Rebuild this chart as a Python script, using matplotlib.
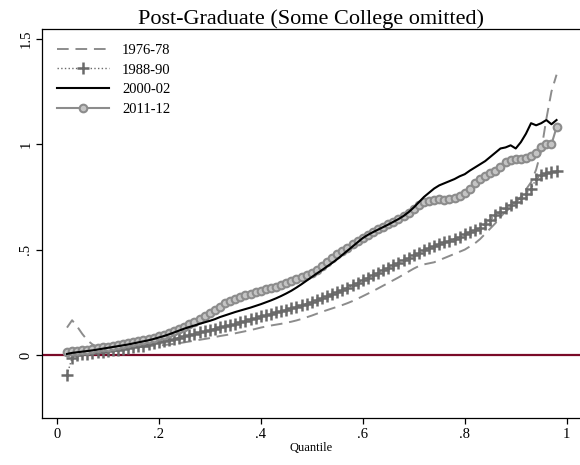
import numpy as np
import matplotlib.pyplot as plt

plt.rcParams['font.family'] = ['Liberation Serif', 'DejaVu Serif']

# quantiles 0.02 ... 0.98, ten values per row
quantile = np.round(np.arange(2, 99) / 100, 2)

y_1976 = [0.13, 0.165, 0.135, 0.10, 0.07, 0.05, 0.04, 0.035, 0.035, 0.035,
          0.035, 0.036, 0.037, 0.038, 0.04, 0.041, 0.042, 0.044, 0.045, 0.047,
          0.05, 0.053, 0.056, 0.06, 0.064, 0.068, 0.072, 0.076, 0.08, 0.085,
          0.09, 0.094, 0.098, 0.103, 0.108, 0.113, 0.118, 0.124, 0.13, 0.135,
          0.14, 0.144, 0.148, 0.153, 0.158, 0.164, 0.171, 0.179, 0.187, 0.196,
          0.205, 0.213, 0.221, 0.229, 0.237, 0.246, 0.256, 0.267, 0.279, 0.291,
          0.303, 0.316, 0.329, 0.342, 0.355, 0.368, 0.382, 0.396, 0.41, 0.422,
          0.43, 0.435, 0.44, 0.45, 0.46, 0.47, 0.48, 0.49, 0.50, 0.515,
          0.53, 0.55, 0.575, 0.60, 0.625, 0.655, 0.68, 0.70, 0.725, 0.75,
          0.785, 0.82, 0.88, 0.97, 1.12, 1.25, 1.33]

y_1988 = [-0.095, -0.012, -0.002, 0.003, 0.007, 0.01, 0.013, 0.016, 0.019, 0.022,
          0.025, 0.029, 0.033, 0.037, 0.041, 0.045, 0.05, 0.055, 0.06, 0.065,
          0.071, 0.077, 0.083, 0.089, 0.095, 0.101, 0.107, 0.113, 0.119, 0.125,
          0.131, 0.137, 0.143, 0.149, 0.156, 0.163, 0.17, 0.177, 0.184, 0.19,
          0.196, 0.202, 0.208, 0.214, 0.221, 0.228, 0.236, 0.244, 0.252, 0.26,
          0.269, 0.278, 0.288, 0.298, 0.308, 0.319, 0.33, 0.342, 0.354, 0.366,
          0.378, 0.39, 0.402, 0.414, 0.426, 0.438, 0.45, 0.462, 0.474, 0.486,
          0.497, 0.507, 0.516, 0.525, 0.534, 0.543, 0.552, 0.562, 0.572, 0.582,
          0.592, 0.604, 0.622, 0.642, 0.662, 0.68, 0.698, 0.713, 0.728, 0.745,
          0.765, 0.79, 0.835, 0.855, 0.862, 0.868, 0.872]

y_2000 = [0.005, 0.01, 0.013, 0.016, 0.019, 0.022, 0.026, 0.03, 0.034, 0.038,
          0.042, 0.046, 0.05, 0.055, 0.06, 0.065, 0.07, 0.076, 0.083, 0.09,
          0.098, 0.107, 0.116, 0.125, 0.133, 0.14, 0.148, 0.155, 0.162, 0.17,
          0.18, 0.188, 0.196, 0.204, 0.211, 0.218, 0.225, 0.233, 0.241, 0.25,
          0.259, 0.269, 0.28, 0.292, 0.305, 0.32, 0.336, 0.353, 0.37, 0.387,
          0.403, 0.42, 0.437, 0.455, 0.475, 0.495, 0.515, 0.535, 0.555, 0.57,
          0.583, 0.595, 0.607, 0.619, 0.632, 0.645, 0.66, 0.678, 0.70, 0.725,
          0.75, 0.77, 0.79, 0.805, 0.815, 0.825, 0.835, 0.848, 0.858, 0.875,
          0.89, 0.905, 0.92, 0.94, 0.96, 0.98, 0.985, 0.995, 0.98, 1.01,
          1.05, 1.10, 1.09, 1.10, 1.115, 1.095, 1.115]

y_2011 = [0.014, 0.017, 0.02, 0.022, 0.025, 0.028, 0.032, 0.036, 0.04, 0.044,
          0.048, 0.052, 0.056, 0.06, 0.065, 0.07, 0.076, 0.082, 0.088, 0.095,
          0.103, 0.112, 0.122, 0.133, 0.145, 0.158, 0.172, 0.186, 0.20, 0.215,
          0.23, 0.245, 0.258, 0.268, 0.276, 0.283, 0.29, 0.297, 0.304, 0.311,
          0.318, 0.325, 0.333, 0.341, 0.35, 0.36, 0.37, 0.38, 0.39, 0.405,
          0.42, 0.44, 0.46, 0.478, 0.495, 0.51, 0.525, 0.54, 0.555, 0.57,
          0.585, 0.597, 0.609, 0.621, 0.633, 0.646, 0.66, 0.676, 0.695, 0.712,
          0.725, 0.733, 0.737, 0.738, 0.737, 0.738, 0.745, 0.755, 0.768, 0.79,
          0.815, 0.835, 0.85, 0.863, 0.875, 0.89, 0.915, 0.927, 0.93, 0.932,
          0.936, 0.942, 0.958, 0.988, 1.0, 1.0, 1.08]

fig = plt.figure(figsize=(5.8, 4.65), dpi=100)
ax = fig.add_axes([42 / 580, 1 - 418 / 465, 1 - 42 / 580, (418 - 29) / 465])

ax.axhline(0, color='#7a0a28', lw=1.6, zorder=1)

ax.plot(quantile, y_1976, color='#8c8c8c', lw=1.4, ls=(0, (6, 3.5)),
        label='1976-78', zorder=2)
ax.plot(quantile, y_1988, color='#6a6a6a', lw=1.0, ls=':', marker='+',
        ms=8, mew=1.8, label='1988-90', zorder=3)
ax.plot(quantile, y_2000, color='black', lw=1.5, label='2000-02', zorder=4)
ax.plot(quantile, y_2011, color='#8c8c8c', lw=1.5, marker='o', ms=5.5,
        mfc='#c4c4c4', mec='#8c8c8c', mew=1.5, label='2011-12', zorder=3)

ax.set_xlim(-0.029, 1.026)
ax.set_ylim(-0.299, 1.547)
ax.set_xticks([0, 0.2, 0.4, 0.6, 0.8, 1])
ax.set_xticklabels(['0', '.2', '.4', '.6', '.8', '1'])
ax.set_yticks([0, 0.5, 1, 1.5])
ax.set_yticklabels(['0', '.5', '1', '1.5'], rotation=90, va='center')
ax.tick_params(direction='out', length=4, width=0.9, labelsize=10.5, pad=3)
ax.spines['right'].set_visible(False)
for s in ['left', 'bottom', 'top']:
    ax.spines[s].set_linewidth(0.9)

ax.set_xlabel('Quantile', fontsize=9, labelpad=1)
ax.set_title('Post-Graduate (Some College omitted)', fontsize=16, pad=3)

ax.legend(loc='upper left', bbox_to_anchor=(0.0, 1.0), frameon=False,
          fontsize=10.5, handlelength=3.6, handletextpad=0.9, labelspacing=0.45,
          borderaxespad=0.6)

fig.savefig('out.png', dpi=100)
